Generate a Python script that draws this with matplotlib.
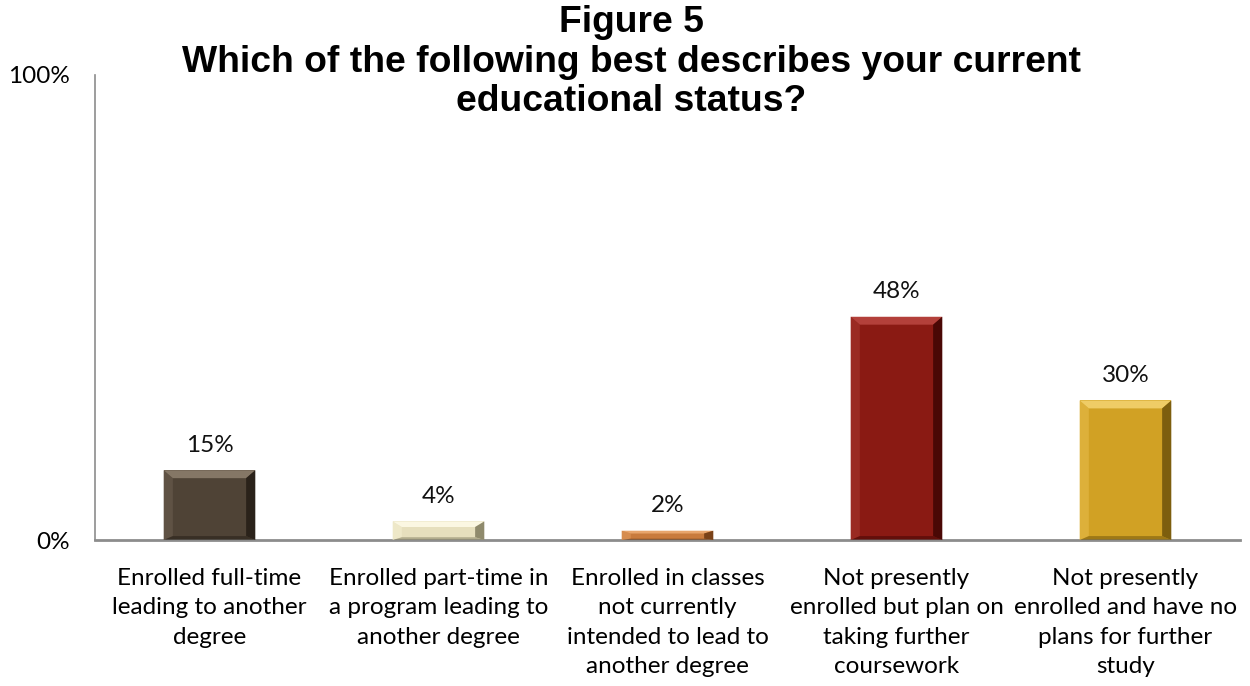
import matplotlib.pyplot as plt
from matplotlib.patches import Polygon

# Survey responses
categories = [
    "Enrolled full-time\nleading to another\ndegree",
    "Enrolled part-time in\na program leading to\nanother degree",
    "Enrolled in classes\nnot currently\nintended to lead to\nanother degree",
    "Not presently\nenrolled but plan on\ntaking further\ncoursework",
    "Not presently\nenrolled and have no\nplans for further\nstudy",
]
values = [15, 4, 2, 48, 30]
colors = ["#4f4336", "#e6dfbd", "#c97b3d", "#8a1a13", "#d1a124"]
light = ["#857766", "#fbf7e2", "#e8a56c", "#b3403a", "#efcc66"]
side = ["#5f5244", "#eee8c8", "#d68c4e", "#9a2a22", "#ddb03a"]
dark = ["#2a221a", "#8f8a6c", "#7a4218", "#4a0805", "#7d5e0e"]

fig = plt.figure(figsize=(12.5, 6.86), dpi=100)
ax = fig.add_axes([0.076, 0.2128, 0.916, 0.678])

x = range(len(values))
width = 0.40
bars = ax.bar(x, values, width=width, color=colors, edgecolor="none", zorder=2)

# simple bevel look on each bar
for b, lc, sc, dc in zip(bars, light, side, dark):
    x0, x1 = b.get_x(), b.get_x() + b.get_width()
    h = b.get_height()
    dx = 0.04
    dy = min(1.7, h * 0.3)
    ax.add_patch(Polygon([(x0, 0), (x0, h), (x0 + dx, h - dy), (x0 + dx, dy * 0.5)],
                         color=sc, lw=0, zorder=3))
    ax.add_patch(Polygon([(x0, 0), (x1, 0), (x1 - dx, dy * 0.5), (x0 + dx, dy * 0.5)],
                         color=dc, lw=0, zorder=3, alpha=0.6))
    ax.add_patch(Polygon([(x0, h), (x1, h), (x1 - dx, h - dy), (x0 + dx, h - dy)],
                         color=lc, lw=0, zorder=3))
    ax.add_patch(Polygon([(x1, h), (x1, 0), (x1 - dx, dy * 0.5), (x1 - dx, h - dy)],
                         color=dc, lw=0, zorder=3))
    ax.text(b.get_x() + b.get_width() / 2, h + 5.4, f"{h:g}%", ha="center",
            va="center", fontsize=17.5, family="Lato", color="#111111")

ax.set_xlim(-0.5, len(values) - 0.5)
ax.set_ylim(0, 100)
ax.set_yticks([0, 100])
ax.set_yticklabels(["0%", "100%"], fontsize=17.5, family="Lato")
ax.set_xticks(list(x))
ax.set_xticklabels(categories, fontsize=17.5, family="Lato", linespacing=1.5)
ax.tick_params(length=0)
ax.tick_params(axis="y", pad=18)
ax.tick_params(axis="x", pad=20)
for s in ["top", "right"]:
    ax.spines[s].set_visible(False)
for s in ["left", "bottom"]:
    ax.spines[s].set_color("#8c8c8c")
ax.spines["bottom"].set_linewidth(2)
ax.spines["left"].set_linewidth(1.2)

fig.text(0.505, 0.992, "Figure 5\nWhich of the following best describes your current\neducational status?",
         ha="center", va="top", fontsize=26.8, fontweight="bold",
         family="Liberation Sans", linespacing=1.15)

fig.savefig("out.png", dpi=100)
